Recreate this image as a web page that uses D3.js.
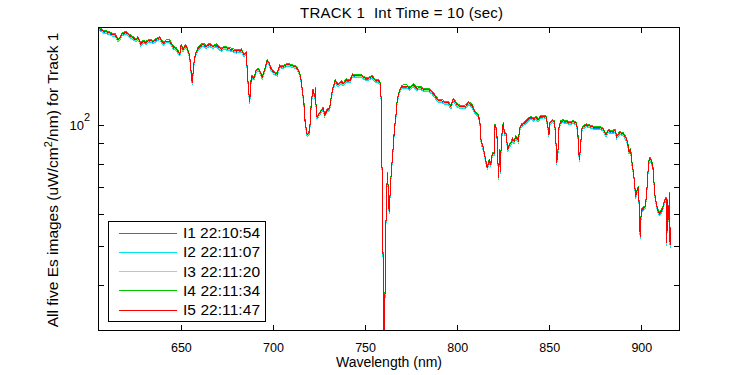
<!DOCTYPE html>
<html><head><meta charset="utf-8">
<script src="https://cdn.jsdelivr.net/npm/d3@7"></script>
<style>body{margin:0;background:#fff}svg{display:block}text{font-family:"Liberation Sans",Arial,Helvetica,sans-serif;fill:#000;white-space:pre}</style>
</head><body><svg id="c" width="750" height="375"></svg>
<script>
// ---- data ----
const wavelength = [605.0,606.1,607.7,609.3,611.5,613.1,614.2,615.9,617.0,618.0,620.2,622.4,624.0,625.6,626.7,628.2,629.4,631.1,633.1,634.9,637.6,638.5,640.3,642.1,643.9,645.7,647.5,649.4,650.2,651.1,652.4,653.5,654.8,655.7,656.2,657.0,657.8,659.3,662.0,663.8,665.6,667.4,669.2,671.9,
673.4,675.6,677.4,680.1,682.8,684.3,685.5,686.1,686.8,687.4,687.9,688.6,689.7,690.9,692.2,693.3,694.2,695.5,696.8,697.7,698.8,700.5,702.3,703.6,705.4,707.2,709.1,710.9,712.7,714.0,715.0,715.7,716.8,717.5,718.6,719.9,720.8,721.7,722.7,723.2,723.5,724.4,725.9,727.2,728.1,729.5,730.8,731.7,732.6,733.8,735.3,737.1,
738.0,740.0,741.8,743.3,745.4,748.2,750.0,751.7,753.9,755.4,757.2,758.1,758.6,759.0,759.6,759.9,760.4,760.8,761.2,761.7,762.3,762.6,763.1,763.9,764.4,765.0,765.7,766.2,766.8,767.5,768.6,769.9,770.7,772.6,774.4,776.2,778.0,779.8,782.5,784.3,786.2,788.0,789.8,791.6,793.4,795.2,796.6,797.9,799.7,801.5,803.3,
804.8,806.0,807.9,809.7,811.5,812.4,813.0,814.2,815.1,816.4,817.4,818.2,819.1,820.2,820.5,821.5,822.0,822.5,823.0,823.4,823.8,824.5,825.1,825.6,826.5,827.5,828.3,829.2,830.1,831.0,831.9,833.2,834.1,835.0,836.8,838.6,839.9,841.3,842.8,844.0,845.3,846.7,848.2,849.1,849.8,850.4,851.6,852.7,853.5,854.0,854.7,855.3,856.2,857.6,859.5,861.3,863.0,864.5,865.2,865.8,866.3,866.9,867.6,868.5,870.3,872.1,873.9,875.7,877.5,879.3,880.8,882.0,883.9,885.7,886.6,888.4,890.2,891.7,892.6,893.3,894.2,894.8,895.6,896.2,896.9,897.8,898.6,898.9,899.4,900.0,901.1,902.1,902.9,903.4,904.1,904.7,905.6,906.5,907.2,907.9,908.9,909.7,910.7,911.6,912.5,913.4,913.8,914.3,914.9,915.2,915.6,916.0];

const I1 = [172.7,171.7,169.7,169.0,167.8,165.9,166.3,161.1,163.0,166.8,168.3,165.2,163.3,161.1,163.3,157.5,159.6,159.0,161.1,159.6,162.7,163.3,158.1,160.2,160.2,155.0,153.0,148.7,156.6,152.1,155.9,153.6,146.7,132.0,125.8,139.8,148.1,153.6,157.5,155.0,157.2,155.0,156.6,152.7,
154.4,153.6,152.7,151.2,152.1,148.1,149.3,134.5,119.8,113.1,125.8,130.7,129.5,135.3,136.4,133.3,130.2,135.8,143.3,141.7,137.2,133.7,132.7,139.0,138.4,139.8,139.8,139.0,138.0,134.5,130.7,123.3,112.1,100.0,93.5,95.3,112.1,121.0,116.4,122.2,103.9,104.3,106.9,109.1,104.9,108.0,109.1,116.4,122.2,127.7,124.6,127.0,
125.3,128.2,127.7,132.0,131.2,131.2,129.5,129.5,130.7,128.2,127.7,126.2,122.2,89.1,59.1,37.5,28.4,36.1,51.6,68.2,75.1,66.3,60.2,70.9,77.4,83.3,93.0,99.1,104.9,114.2,119.8,123.3,123.8,123.8,122.2,124.6,122.2,122.9,121.0,121.5,119.8,116.9,113.8,113.8,112.5,112.5,109.9,114.7,111.6,109.9,109.9,
110.3,112.5,111.0,106.9,104.9,100.0,90.0,86.6,82.5,77.4,80.9,78.9,83.8,84.1,99.1,96.2,83.3,73.1,85.8,75.7,84.9,96.6,100.0,94.4,94.1,85.8,88.3,89.1,91.2,90.0,92.6,90.5,97.2,99.1,100.4,102.4,103.6,102.4,103.6,102.0,103.9,104.3,103.9,99.1,93.5,100.0,101.5,100.9,94.4,79.4,84.1,97.2,100.9,101.5,100.9,100.4,100.9,100.4,97.2,90.8,80.9,85.8,96.2,98.1,99.1,98.5,97.8,97.8,97.8,96.6,93.5,95.9,95.3,95.9,92.6,94.8,94.1,91.7,89.1,84.9,85.8,80.2,75.9,72.3,65.6,68.2,69.5,58.5,52.1,60.8,61.4,61.9,66.3,73.7,80.2,81.7,80.2,76.6,66.9,63.8,60.8,59.6,60.2,61.4,63.8,65.0,50.1,64.4,57.4,66.9,49.6,54.7];

const I2 = [172.2,171.2,169.2,168.5,167.3,165.4,165.8,160.6,162.5,166.3,167.8,164.7,162.8,160.6,162.8,157.0,159.1,158.5,160.6,159.1,162.2,162.8,157.6,159.7,159.7,154.5,152.5,148.3,156.1,151.6,155.4,153.1,146.3,131.6,125.4,139.4,147.7,153.1,157.0,154.5,156.7,154.5,156.1,152.2,
153.9,153.1,152.2,150.7,151.6,147.7,148.8,134.1,119.4,112.7,125.4,130.3,129.1,134.9,136.0,132.9,129.8,135.4,142.9,141.3,136.8,133.3,132.3,138.6,138.0,139.4,139.4,138.6,137.6,134.1,130.3,122.9,111.7,99.7,93.2,95.0,111.7,120.6,116.0,121.8,103.6,104.0,106.6,108.8,104.6,107.7,108.8,116.0,121.8,127.3,124.2,126.6,
124.9,127.8,127.3,131.6,130.8,130.8,129.1,129.1,130.3,127.8,127.3,125.8,121.8,88.8,58.9,37.3,28.2,35.9,51.4,68.0,74.9,66.1,60.0,70.7,77.2,83.0,92.7,98.8,104.6,113.8,119.4,122.9,123.4,123.4,121.8,124.2,121.8,122.5,120.6,121.1,119.4,116.5,113.4,113.4,112.1,112.1,109.5,114.3,111.2,109.5,109.5,
109.9,112.1,110.6,106.6,104.6,99.7,89.7,86.3,82.2,77.2,80.6,78.7,83.5,83.8,98.8,95.9,83.0,72.9,85.5,75.5,84.6,96.3,99.7,94.1,93.8,85.5,88.0,88.8,90.9,89.7,92.3,90.2,96.9,98.8,100.1,102.1,103.3,102.1,103.3,101.7,103.6,104.0,103.6,98.8,93.2,99.7,101.2,100.6,94.1,79.4,83.8,96.9,100.6,101.2,100.6,100.1,100.6,100.1,96.9,90.5,80.6,85.5,95.9,97.8,98.8,98.2,97.5,97.5,97.5,96.3,93.2,95.6,95.0,95.6,92.3,94.5,93.8,91.4,88.8,84.6,85.5,79.9,75.7,72.1,65.4,68.0,69.3,58.3,51.9,60.6,61.2,61.7,66.1,73.5,79.9,81.4,79.9,76.4,66.7,63.6,60.6,59.4,60.0,61.2,63.6,64.8,49.9,64.2,57.2,66.7,49.4,54.5];

const I3 = [173.5,172.5,170.5,169.8,168.6,166.7,167.1,161.9,163.8,167.6,169.1,166.0,164.1,161.9,164.1,158.3,160.4,159.8,161.9,160.4,163.5,164.1,158.9,161.0,161.0,155.8,153.8,149.3,157.4,152.9,156.7,154.4,147.3,132.6,126.4,140.4,148.7,154.4,158.3,155.8,158.0,155.8,157.4,153.5,
155.2,154.4,153.5,152.0,152.9,148.7,150.1,135.1,120.4,113.7,126.4,131.3,130.1,135.9,137.0,133.9,130.8,136.4,143.9,142.3,137.8,134.3,133.3,139.6,139.0,140.4,140.4,139.6,138.6,135.1,131.3,123.9,112.7,100.5,94.0,95.8,112.7,121.6,117.0,122.8,104.4,104.8,107.4,109.6,105.4,108.5,109.6,117.0,122.8,128.3,125.2,127.6,
125.9,128.8,128.3,132.6,131.8,131.8,130.1,130.1,131.3,128.8,128.3,126.8,122.8,89.6,59.5,37.9,28.8,36.5,52.0,68.6,75.5,66.7,60.6,71.3,77.8,83.8,93.5,99.6,105.4,114.8,120.4,123.9,124.4,124.4,122.8,125.2,122.8,123.5,121.6,122.1,120.4,117.5,114.4,114.4,113.1,113.1,110.5,115.3,112.3,110.5,110.5,
110.9,113.1,111.6,107.4,105.4,100.5,90.5,87.1,83.0,77.8,81.4,79.3,84.3,84.6,99.6,96.7,83.8,73.5,86.3,76.1,85.4,97.1,100.5,94.9,94.6,86.3,88.8,89.6,91.7,90.5,93.1,91.0,97.7,99.6,100.9,102.9,104.1,102.9,104.1,102.5,104.4,104.8,104.4,99.6,94.0,100.5,102.0,101.4,94.9,79.9,84.6,97.7,101.4,102.0,101.4,100.9,101.4,100.9,97.7,91.3,81.4,86.3,96.7,98.6,99.6,99.0,98.3,98.3,98.3,97.1,94.0,96.4,95.8,96.4,93.1,95.3,94.6,92.2,89.6,85.4,86.3,80.7,76.3,72.7,66.0,68.6,69.9,58.9,52.5,61.2,61.8,62.3,66.7,74.1,80.7,82.2,80.7,77.0,67.3,64.2,61.2,60.0,60.6,61.8,64.2,65.4,50.5,64.8,57.8,67.3,50.0,55.1];

const I4 = [175.0,174.0,172.0,171.3,170.1,168.2,168.6,163.4,165.3,169.1,170.6,167.5,165.6,163.4,165.6,159.8,161.9,161.3,163.4,161.9,165.0,165.6,160.4,162.5,162.5,157.3,155.3,150.5,158.9,154.4,158.2,155.9,148.5,133.8,127.6,141.6,149.9,155.9,159.8,157.3,159.5,157.3,158.9,155.0,
156.7,155.9,155.0,153.5,154.4,149.9,151.6,136.3,121.6,114.9,127.6,132.5,131.3,137.1,138.2,135.1,132.0,137.6,145.1,143.5,139.0,135.5,134.5,140.8,140.2,141.6,141.6,140.8,139.8,136.3,132.5,125.1,113.9,101.4,94.9,96.7,113.9,122.8,118.2,124.0,105.3,105.7,108.3,110.5,106.3,109.4,110.5,118.2,124.0,129.5,126.4,128.8,
127.1,130.0,129.5,133.8,133.0,133.0,131.3,131.3,132.5,130.0,129.5,128.0,124.0,90.5,60.1,38.5,29.4,37.1,52.6,69.2,76.1,67.3,61.2,71.9,78.4,84.7,94.4,100.5,106.3,116.0,121.6,125.1,125.6,125.6,124.0,126.4,124.0,124.7,122.8,123.3,121.6,118.7,115.6,115.6,114.3,114.3,111.7,116.5,113.4,111.7,111.7,
112.1,114.3,112.8,108.3,106.3,101.4,91.4,88.0,83.9,78.4,82.3,79.9,85.2,85.5,100.5,97.6,84.7,74.1,87.2,76.7,86.3,98.0,101.4,95.8,95.5,87.2,89.7,90.5,92.6,91.4,94.0,91.9,98.6,100.5,101.8,103.8,105.0,103.8,105.0,103.4,105.3,105.7,105.3,100.5,94.9,101.4,102.9,102.3,95.8,80.8,85.5,98.6,102.3,102.9,102.3,101.8,102.3,101.8,98.6,92.2,82.3,87.2,97.6,99.5,100.5,99.9,99.2,99.2,99.2,98.0,94.9,97.3,96.7,97.3,94.0,96.2,95.5,93.1,90.5,86.3,87.2,81.6,76.9,73.3,66.6,69.2,70.5,59.5,53.1,61.8,62.4,62.9,67.3,74.7,81.6,83.1,81.6,77.6,67.9,64.8,61.8,60.6,61.2,62.4,64.8,66.0,51.1,65.4,58.4,67.9,50.6,55.7];

const I5 = [174.0,173.0,171.0,170.3,169.1,167.2,167.6,162.4,164.3,168.1,169.6,166.5,164.6,162.4,164.6,158.8,160.9,160.3,162.4,160.9,164.0,164.6,159.4,161.5,161.5,156.3,154.3,149.7,157.9,153.4,157.2,154.9,147.7,133.0,126.8,140.8,149.1,154.9,158.8,156.3,158.5,156.3,157.9,154.0,
155.7,154.9,154.0,152.5,153.4,149.1,150.6,135.5,120.8,114.1,126.8,131.7,130.5,136.3,137.4,134.3,131.2,136.8,144.3,142.7,138.2,134.7,133.7,140.0,139.4,140.8,140.8,140.0,139.0,135.5,131.7,124.3,113.1,100.8,94.3,96.1,113.1,122.0,117.4,123.2,104.7,105.1,107.7,109.9,105.7,108.8,109.9,117.4,123.2,128.7,125.6,128.0,
126.3,129.2,128.7,133.0,132.2,132.2,130.5,130.5,131.7,129.2,128.7,127.2,123.2,89.9,59.7,38.1,29.0,36.7,52.2,68.8,75.7,66.9,60.8,71.5,78.0,84.1,93.8,99.9,105.7,115.2,120.8,124.3,124.8,124.8,123.2,125.6,123.2,123.9,122.0,122.5,120.8,117.9,114.8,114.8,113.5,113.5,110.9,115.7,112.6,110.9,110.9,
111.3,113.5,112.0,107.7,105.7,100.8,90.8,87.4,83.3,78.0,81.7,79.5,84.6,84.9,99.9,97.0,84.1,73.7,86.6,76.3,85.7,97.4,100.8,95.2,94.9,86.6,89.1,89.9,92.0,90.8,93.4,91.3,98.0,99.9,101.2,103.2,104.4,103.2,104.4,102.8,104.7,105.1,104.7,99.9,94.3,100.8,102.3,101.7,95.2,80.2,84.9,98.0,101.7,102.3,101.7,101.2,101.7,101.2,98.0,91.6,81.7,86.6,97.0,98.9,99.9,99.3,98.6,98.6,98.6,97.4,94.3,96.7,96.1,96.7,93.4,95.6,94.9,92.5,89.9,85.7,86.6,81.0,76.5,72.9,66.2,68.8,70.1,59.1,52.7,61.4,62.0,62.5,66.9,74.3,81.0,82.5,81.0,77.2,67.5,64.4,61.4,60.2,60.8,62.0,64.4,65.6,50.7,65.0,58.0,67.5,50.2,55.3];

const seriesLabels = ["I1 22:10:54","I2 22:11:07","I3 22:11:20","I4 22:11:34","I5 22:11:47"];
const seriesColors = ["#0080ff","#00e6e6","#80f080","#00c800","#ff0000"];
const xTicks = [650,700,750,800,850,900];
const yTicks = [40,50,60,70,80,90,100];
const xLimits = [605,921];
const yLimits = [30.7,175];
const titleText = "TRACK 1  Int Time = 10 (sec)";
const xLabelText = "Wavelength (nm)";

// ---- drawing ----
const series = [I1,I2,I3,I4,I5];
const svg = d3.select("#c");
const L=98,R=680,T=27,B=331;
const x = d3.scaleLinear().domain(xLimits).range([L,R]);
const y = d3.scaleLog().domain(yLimits).range([B,T]);

svg.append("rect").attr("width",750).attr("height",375).attr("fill","#fff");
svg.append("defs").append("clipPath").attr("id","clip")
  .append("rect").attr("x",L).attr("y",T).attr("width",R-L).attr("height",B-T);

const line = d3.line().x((d,i)=>x(wavelength[i])).y(d=>y(d));
const plot = svg.append("g").attr("clip-path","url(#clip)");
series.forEach((s,k)=>{
  plot.append("path").datum(s).attr("d",line).attr("fill","none")
    .attr("stroke",seriesColors[k]).attr("stroke-width",1)
    .attr("shape-rendering","crispEdges");
});

function styleAxis(g){
  g.select(".domain").remove();
  g.selectAll(".tick line").attr("stroke","#000").attr("shape-rendering","crispEdges");
  g.selectAll(".tick text").attr("font-size","12.5px").attr("fill","#000")
    .attr("font-family",'"Liberation Sans",Arial,sans-serif');
}
svg.append("g").attr("transform",`translate(0,${B})`)
  .call(d3.axisBottom(x).tickValues(xTicks).tickSizeInner(-6).tickSizeOuter(0))
  .call(styleAxis)
  .call(g=>g.selectAll(".tick text").attr("dy",null).attr("y",20.5));
svg.append("g").attr("transform",`translate(0,${T})`)
  .call(d3.axisTop(x).tickValues(xTicks).tickSizeInner(-6).tickSizeOuter(0).tickFormat(""))
  .call(styleAxis);
svg.append("g").attr("transform",`translate(${L},0)`)
  .call(d3.axisLeft(y).tickValues(yTicks).tickSizeInner(-6).tickSizeOuter(0).tickFormat(""))
  .call(styleAxis);
svg.append("g").attr("transform",`translate(${R},0)`)
  .call(d3.axisRight(y).tickValues(yTicks).tickSizeInner(-6).tickSizeOuter(0).tickFormat(""))
  .call(styleAxis);

svg.append("rect").attr("x",L+0.5).attr("y",T+0.5).attr("width",R-L-1).attr("height",B-T-1)
  .attr("fill","none").attr("stroke","#000").attr("shape-rendering","crispEdges");

// y tick label 10^2
const yl = svg.append("text").attr("x",L-8).attr("y",y(100)+5).attr("text-anchor","end").attr("font-size","13px");
yl.append("tspan").text("10");
yl.append("tspan").attr("dy",-9).attr("font-size","11px").text("2");

// title & labels
svg.append("text").attr("x",401.5).attr("y",18).attr("text-anchor","middle").attr("font-size","15px")
  .attr("textLength",203).attr("lengthAdjust","spacing").text(titleText);
svg.append("text").attr("x",(L+R)/2).attr("y",367).attr("text-anchor","middle").attr("font-size","14px").text(xLabelText);
const yt = svg.append("text").attr("transform",`translate(58,${(T+B)/2+1}) rotate(-90)`)
  .attr("text-anchor","middle").attr("font-size","15.5px");
yt.append("tspan").text("All five Es images (uW/cm");
yt.append("tspan").attr("dy",-6).attr("font-size","11px").text("2");
yt.append("tspan").attr("dy",6).text("/nm) for Track 1");

// legend
const lg = svg.append("g");
lg.append("rect").attr("x",108.5).attr("y",221.5).attr("width",157).attr("height",100)
  .attr("fill","#fff").attr("stroke","#000").attr("shape-rendering","crispEdges");
seriesLabels.forEach((lab,k)=>{
  const yy = 232.5 + k*19.25;
  lg.append("line").attr("x1",119).attr("x2",177).attr("y1",Math.round(yy)+0.5).attr("y2",Math.round(yy)+0.5)
    .attr("stroke",seriesColors[k]).attr("stroke-width",1).attr("shape-rendering","crispEdges");
  lg.append("text").attr("x",183).attr("y",yy+5.5).attr("font-size","15.5px")
    .attr("textLength",77).attr("lengthAdjust","spacing").text(lab);
});
</script></body></html>
